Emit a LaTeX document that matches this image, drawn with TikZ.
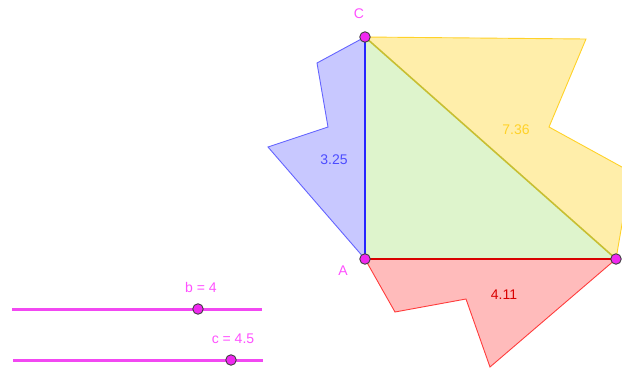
\documentclass[tikz,border=0pt]{standalone}
\usepackage{fontspec}
\setmainfont{Liberation Sans}
\usetikzlibrary{positioning}

\definecolor{ptmag}{RGB}{240,40,240}
\definecolor{lblmag}{RGB}{255,80,255}
\definecolor{sqblue}{RGB}{200,200,255}
\definecolor{edblue}{RGB}{100,100,255}
\definecolor{sqyel}{RGB}{255,238,170}
\definecolor{edyel}{RGB}{255,210,40}
\definecolor{sqred}{RGB}{255,187,187}
\definecolor{edred}{RGB}{255,60,60}
\definecolor{trgreen}{RGB}{222,244,204}

\begin{document}
\begin{tikzpicture}[
        x=1pt, y=-1pt,
        font=\fontsize{14}{16}\selectfont,
        point/.style={circle, draw=black!75, fill=ptmag, line width=0.9pt, inner sep=0pt, minimum size=10.5pt},
        ptlabel/.style={text=lblmag, inner sep=0pt},
        slider/.style={draw=ptmag!85, line width=3pt},
        polyline/.style={line width=0.9pt, line join=miter}
    ]

    \useasboundingbox (0,0) rectangle (622,368);
    \clip (0,0) rectangle (622,368);

    % --- vertices of the triangle ---
    \coordinate (A) at (365,259);
    \coordinate (B) at (616,259);
    \coordinate (C) at (365,37);

    % --- blue shape on AC ---
    \coordinate (b1) at (317,63);
    \coordinate (b2) at (328,127);
    \coordinate (b3) at (268,147);
    \fill[sqblue] (C) -- (b1) -- (b2) -- (b3) -- (A) -- cycle;
    \draw[polyline, edblue] (C) -- (b1) -- (b2) -- (b3) -- (A);

    % --- yellow shape on BC ---
    \coordinate (y1) at (586,39);
    \coordinate (y2) at (549,127);
    \coordinate (y3) at (631,172);
    \fill[sqyel] (C) -- (y1) -- (y2) -- (y3) -- (B) -- cycle;
    \draw[polyline, edyel] (C) -- (y1) -- (y2) -- (y3) -- (B);

    % --- red shape on AB ---
    \coordinate (r1) at (395,312);
    \coordinate (r2) at (466,299);
    \coordinate (r3) at (490,367);
    \fill[sqred] (A) -- (r1) -- (r2) -- (r3) -- (B) -- cycle;
    \draw[polyline, edred] (A) -- (r1) -- (r2) -- (r3) -- (B);

    % --- triangle ---
    \fill[trgreen] (A) -- (B) -- (C) -- cycle;
    \draw[line width=1.3pt, blue!85!white] (A) -- (C);
    \draw[line width=1.3pt, red!85!black] (A) -- (B);
    \draw[line width=1.6pt, yellow!75!black] (B) -- (C);

    % --- lengths ---
    \node[text=blue!70!white] (lenb) at (334,160) {3.25};
    \node[text=edyel] (lena) at (516,130) {7.36};
    \node[text=red!85!black] (lenc) at (504,295) {4.11};

    % --- points ---
    \node[point] (pA) at (A) {};
    \node[point] (pB) at (B) {};
    \node[point] (pC) at (C) {};
    \node[ptlabel] (lA) at (343,271) {A};
    \node[ptlabel, anchor=west] (lB) at (621,244) {B};
    \node[ptlabel] (lC) at (359,14) {C};

    % --- sliders ---
    \coordinate (sb1) at (12,309);
    \coordinate (sb2) at (262,309);
    \draw[slider] (sb1) -- (sb2);
    \node[point] (sbpt) at (198,309) {};
    \node[ptlabel] (sblbl) at (201,287) {b = 4};

    \coordinate (sc1) at (13,360);
    \coordinate (sc2) at (263,360);
    \draw[slider] (sc1) -- (sc2);
    \node[point] (scpt) at (231,360) {};
    \node[ptlabel] (sclbl) at (233,339) {c = 4.5};

\end{tikzpicture}
\end{document}
